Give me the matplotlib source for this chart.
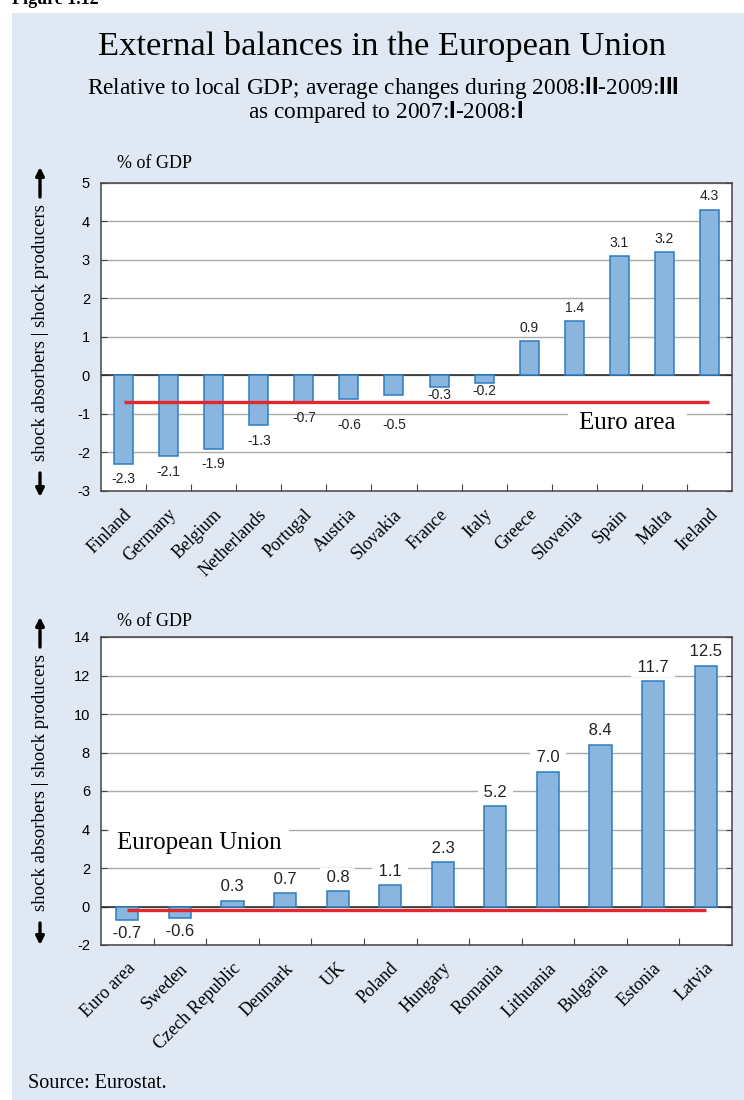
import matplotlib.pyplot as plt
from matplotlib.patches import Rectangle

# -----------------------------
# Data (% of GDP)
# -----------------------------
euro_countries = ["Finland", "Germany", "Belgium", "Netherlands", "Portugal", "Austria",
                  "Slovakia", "France", "Italy", "Greece", "Slovenia", "Spain", "Malta", "Ireland"]
euro_values = [-2.3, -2.1, -1.9, -1.3, -0.7, -0.6, -0.5, -0.3, -0.2, 0.9, 1.4, 3.1, 3.2, 4.3]
euro_area_avg = -0.68

eu_countries = ["Euro area", "Sweden", "Czech Republic", "Denmark", "UK", "Poland", "Hungary",
                "Romania", "Lithuania", "Bulgaria", "Estonia", "Latvia"]
eu_values = [-0.7, -0.6, 0.3, 0.7, 0.8, 1.1, 2.3, 5.2, 7.0, 8.4, 11.7, 12.5]
eu_avg = -0.2

top_yticks = [-3, -2, -1, 0, 1, 2, 3, 4, 5]
bottom_yticks = [-2, 0, 2, 4, 6, 8, 10, 12, 14]

# -----------------------------
# Style
# -----------------------------
SERIF = ["Liberation Serif", "DejaVu Serif"]
SANS = ["Liberation Sans", "DejaVu Sans"]
plt.rcParams["font.family"] = SANS
plt.rcParams["mathtext.fontset"] = "custom"
plt.rcParams["mathtext.sf"] = "Liberation Sans:bold"
plt.rcParams["mathtext.rm"] = "Liberation Serif"

PANEL = "#e0e8f4"
BAR_FILL = "#8ab5de"
BAR_EDGE = "#2c7cbf"
RED = "#e3282d"
GRID = "#a9a9a9"
SPINE = "#444444"

fig = plt.figure(figsize=(7.44, 11), dpi=100)
W, H = 744, 1100

# light blue background panel
fig.patches.append(Rectangle((12 / W, 0), 1, 1 - 13 / H, transform=fig.transFigure,
                             facecolor=PANEL, edgecolor="none", zorder=-10))
fig.text(12 / W, 1 - 4 / H, "Figure 1.12", family=SERIF, fontsize=13, weight="bold",
         va="baseline", ha="left")

fig.text(0.514, 1 - 47 / H, "External balances in the European Union", family=SERIF,
         fontsize=24.8, ha="center", va="center")
fig.text(0.515, 1 - 88 / H,
         r"Relative to local GDP; average changes during 2008:$\mathsf{II}$-2009:$\mathsf{III}$",
         family=SERIF, fontsize=16.8, ha="center", va="center")
fig.text(0.518, 1 - 112 / H, r"as compared to 2007:$\mathsf{I}$-2008:$\mathsf{I}$",
         family=SERIF, fontsize=16.8, ha="center", va="center")


def arrow(y_from, y_to):
    fig.add_artist(plt.Annotation("", xy=(40 / W, 1 - y_to / H), xycoords="figure fraction",
                                  xytext=(40 / W, 1 - y_from / H), textcoords="figure fraction",
                                  arrowprops=dict(arrowstyle="-|>", lw=2.4, color="black",
                                                  mutation_scale=12, shrinkA=0, shrinkB=0)))


def side_label(y_text, y_up, y_down):
    # rotated side caption with arrows pointing up and down
    fig.text(41 / W, 1 - y_text / H, "shock absorbers | shock producers", family=SERIF,
             fontsize=13.6, rotation=90, ha="center", va="center")
    arrow(*y_up)
    arrow(*y_down)


def bar_panel(ax, labels, values, avg, yticks, label_size, pos_off, neg_off, boxed):
    n = len(values)
    x = list(range(n))
    ax.bar(x, values, width=0.42, color=BAR_FILL, edgecolor=BAR_EDGE, linewidth=1.1, zorder=3)
    ax.axhline(0, color="#222222", lw=1.1, zorder=2)
    ax.plot([0, n - 1], [avg, avg], color=RED, lw=2.4, zorder=5, solid_capstyle="butt")

    ax.set_xlim(-0.5, n - 0.5)
    ax.set_ylim(yticks[0], yticks[-1])
    ax.set_yticks(yticks)
    ax.set_yticklabels([str(t) for t in yticks], fontsize=10.5)
    ax.yaxis.grid(True, color=GRID, lw=1.0)
    ax.set_axisbelow(True)
    ax.set_facecolor("white")
    for s in ax.spines.values():
        s.set_color(SPINE)
        s.set_linewidth(1.1)
    ax.tick_params(axis="y", left=True, right=True, direction="in", length=4,
                   color=SPINE, pad=8)

    # tick marks sit between categories; names are drawn slanted under each bar
    ax.set_xticks([i + 0.5 for i in range(n - 1)])
    ax.tick_params(axis="x", direction="in", length=5, color=SPINE, labelbottom=False)
    for xi, name in zip(x, labels):
        ax.annotate(name, (xi, 0), xycoords=ax.get_xaxis_transform(),
                    xytext=(4, -15), textcoords="offset points", rotation=45,
                    ha="right", va="center", rotation_mode="anchor",
                    family=SERIF, fontsize=13, annotation_clip=False)

    bbox = dict(boxstyle="square,pad=0.1", facecolor="white", edgecolor="none") if boxed else None
    for xi, v in zip(x, values):
        txt = f" {v:.1f} " if boxed else f"{v:.1f}"
        anchor, off = (xi, v), pos_off
        if v < 0:
            gap = v - avg
            if 0 <= gap < 0.3:
                # keep the label clear of the average line
                anchor, off = (xi, avg), -17
            elif 0.3 <= gap < 0.6:
                off = -5.5
            else:
                off = neg_off
        ax.annotate(txt, anchor, xytext=(0, off), textcoords="offset points",
                    ha="center", va="center", fontsize=label_size, color="#222222",
                    bbox=bbox, zorder=4)


# -----------------------------
# Upper chart: euro area countries
# -----------------------------
ax1 = fig.add_axes([101 / W, 1 - 491 / H, 631 / W, 308.3 / H])
bar_panel(ax1, euro_countries, euro_values, euro_area_avg, top_yticks, 10, 9.5, -11, False)
ax1.text(0.834, 0.22, "Euro area", transform=ax1.transAxes, family=SERIF, fontsize=18,
         ha="center", va="center", zorder=4,
         bbox=dict(boxstyle="square,pad=0.45", facecolor="white", edgecolor="none"))
fig.text(117 / W, 1 - 163 / H, "% of GDP", family=SERIF, fontsize=13, ha="left", va="center")
side_label(333, (197, 167), (473, 497))

# -----------------------------
# Lower chart: EU member states
# -----------------------------
ax2 = fig.add_axes([101 / W, 1 - 945 / H, 631 / W, 308 / H])
bar_panel(ax2, eu_countries, eu_values, eu_avg, bottom_yticks, 12, 10, -10, True)
ax2.text(0.025, 0.33, "European Union", transform=ax2.transAxes, family=SERIF, fontsize=18,
         ha="left", va="center", zorder=4,
         bbox=dict(boxstyle="square,pad=0.3", facecolor="white", edgecolor="none"))
fig.text(117 / W, 1 - 622 / H, "% of GDP", family=SERIF, fontsize=13, ha="left", va="center")
side_label(783, (647, 617), (923, 945))

fig.text(28 / W, 1 - 1083 / H, "Source: Eurostat.", family=SERIF, fontsize=14.5,
         ha="left", va="center")

plt.savefig("out.png", dpi=100)
